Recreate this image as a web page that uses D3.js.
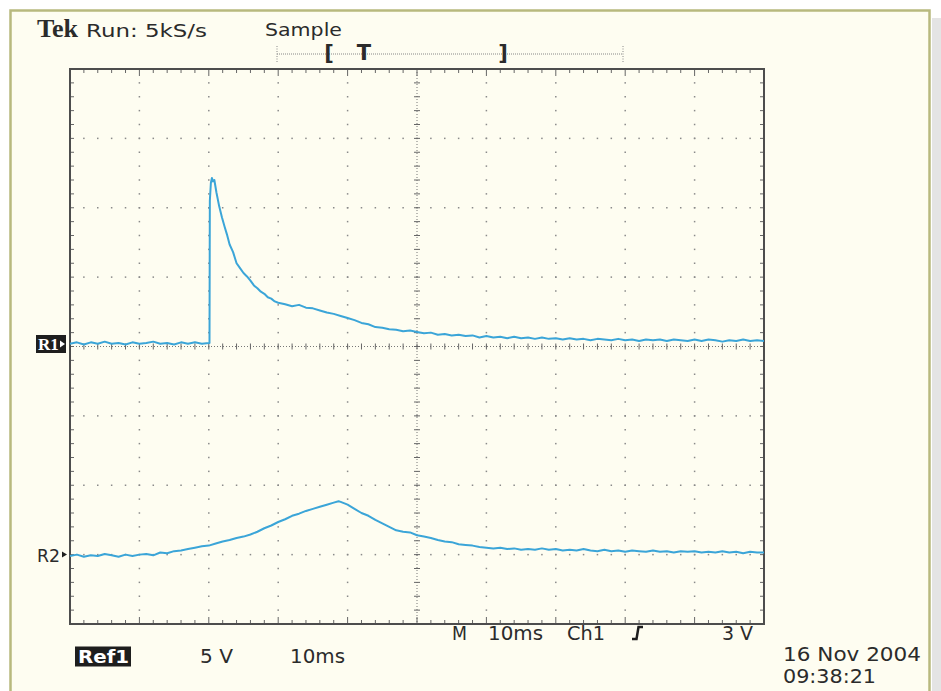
<!DOCTYPE html>
<html>
<head>
<meta charset="utf-8">
<style>
  html, body { margin: 0; padding: 0; background: #ffffff; }
  svg { display: block; }
  text { font-family: "DejaVu Sans", sans-serif; fill: #2b2b2b; }
</style>
</head>
<body>
<div id="scope"></div>
<script src="https://cdn.jsdelivr.net/npm/d3@7"></script>
<script>
// time in ms (10 ms/div), level in screen divisions from centre graticule
var r1Time = [0,1,2,3,4,5,6,7,8,9,10,11,12,13,14,15,16,17,18,19,20,20.1,20.15,20.3,20.45,20.6,20.8,21.1,21.5,21.9,22.3,22.6,23,23.5,24,24.5,25,25.5,26,26.5,27,27.5,28,28.5,29,29.5,30,
  31,32,33,34,35,36,37,38,39,40,41,42,43,44,45,46,47,48,49,50,51,52,53,54,55,56,57,58,59,60,61,62,63,64,65,66,67,68,69,70,
  71,72,73,74,75,76,77,78,79,80,81,82,83,84,85,86,87,88,89,90,91,92,93,94,95,96,97,98,99,100];
var r1Div = [0.04,0.06,0.03,0.06,0.04,0.07,0.04,0.05,0.03,0.06,0.04,0.05,0.07,0.04,0.05,0.03,0.06,0.04,0.06,0.04,0.05,0.05,2.10,2.36,2.43,2.38,2.40,2.22,2.02,1.86,1.72,1.62,1.47,1.36,1.20,1.13,1.06,1.01,0.95,0.88,0.84,0.79,0.76,0.71,0.69,0.65,0.63,
  0.61,0.58,0.60,0.56,0.55,0.52,0.49,0.47,0.44,0.41,0.38,0.34,0.32,0.28,0.27,0.25,0.24,0.22,0.23,0.21,0.19,0.20,0.17,0.18,0.16,0.17,0.15,0.16,0.13,0.15,0.13,0.14,0.12,0.14,0.12,0.13,0.11,0.13,0.11,0.12,
  0.10,0.12,0.10,0.11,0.09,0.11,0.10,0.09,0.11,0.09,0.10,0.08,0.10,0.09,0.10,0.08,0.10,0.09,0.08,0.10,0.08,0.10,0.09,0.07,0.09,0.08,0.10,0.08,0.09,0.08];

var r2Time = [0,1,2,3,4,5,6,7,8,9,10,11,12,13,14,15,16,17,18,19,20,21,22,23,24,25,26,27,28,29,30,31,32,33,34,35,36,37,38,38.7,39,40,
  41,42,43,44,45,46,47,48,49,50,51,52,53,54,55,56,57,58,59,60,61,62,63,64,65,66,67,68,69,70,
  71,72,73,74,75,76,77,78,79,80,81,82,83,84,85,86,87,88,89,90,91,92,93,94,95,96,97,98,99,100];
var r2Div = [-3.02,-3.00,-3.03,-3.01,-3.02,-2.99,-3.01,-3.03,-3.00,-3.02,-3.00,-2.99,-3.01,-2.97,-2.98,-2.95,-2.94,-2.92,-2.90,-2.88,-2.87,-2.84,-2.81,-2.79,-2.76,-2.74,-2.71,-2.67,-2.62,-2.58,-2.53,-2.49,-2.44,-2.41,-2.37,-2.34,-2.31,-2.28,-2.25,-2.23,-2.24,-2.28,
  -2.34,-2.40,-2.44,-2.50,-2.55,-2.60,-2.65,-2.67,-2.68,-2.72,-2.74,-2.76,-2.79,-2.81,-2.82,-2.85,-2.86,-2.87,-2.89,-2.90,-2.91,-2.90,-2.92,-2.91,-2.93,-2.92,-2.93,-2.91,-2.93,-2.92,
  -2.94,-2.93,-2.94,-2.92,-2.94,-2.95,-2.93,-2.95,-2.94,-2.96,-2.94,-2.95,-2.96,-2.94,-2.96,-2.95,-2.97,-2.95,-2.96,-2.95,-2.97,-2.96,-2.97,-2.95,-2.97,-2.96,-2.98,-2.96,-2.97,-2.97];

var xMajor = d3.range(0, 101, 10);   // ms
var yMajor = d3.range(-4, 4.01, 1);  // div
var traceColor = "#3ba5d8";

var W = 941, H = 691;
var plot = {left: 70, right: 764, top: 69, bottom: 624};

var svg = d3.select("#scope").append("svg")
    .attr("width", W).attr("height", H);

// card + shadow
svg.append("rect").attr("x", 932).attr("y", 18).attr("width", 9).attr("height", H - 18).attr("fill", "#e4e4e4");
svg.append("rect")
    .attr("x", 10.5).attr("y", 10.5).attr("width", 919).attr("height", H + 10)
    .attr("fill", "#fefdf1").attr("stroke", "#b8b97e").attr("stroke-width", 2.5);

var x = d3.scaleLinear().domain([0, 100]).range([plot.left, plot.right]);
var y = d3.scaleLinear().domain([-4, 4]).range([plot.bottom, plot.top]);

var xMinor = d3.range(0, 100.01, 2);
var yMinor = d3.range(-4, 4.001, 0.2);

var grid = svg.append("g");

// graticule dots on the major lines
xMajor.filter(function(d) { return d > 0 && d < 100 && d !== 50; }).forEach(function(t) {
  grid.selectAll(null).data(yMinor.slice(1, -1)).enter().append("rect")
    .attr("x", x(t) - 0.75).attr("y", function(v) { return y(v) - 0.75; })
    .attr("width", 1.5).attr("height", 1.5).attr("fill", "#8a8a8a");
});
yMajor.filter(function(d) { return d > -4 && d < 4 && d !== 0; }).forEach(function(v) {
  grid.selectAll(null).data(xMinor.slice(1, -1)).enter().append("rect")
    .attr("x", function(t) { return x(t) - 0.75; }).attr("y", y(v) - 0.75)
    .attr("width", 1.5).attr("height", 1.5).attr("fill", "#8a8a8a");
});

// centre cross
grid.append("line").attr("x1", plot.left).attr("x2", plot.right).attr("y1", y(0)).attr("y2", y(0))
    .attr("stroke", "#777").attr("stroke-width", 1).attr("stroke-dasharray", "1,2");
grid.append("line").attr("x1", x(50)).attr("x2", x(50)).attr("y1", plot.top).attr("y2", plot.bottom)
    .attr("stroke", "#777").attr("stroke-width", 1).attr("stroke-dasharray", "1,2");
grid.selectAll(null).data(xMinor).enter().append("line")
    .attr("x1", function(t) { return x(t); }).attr("x2", function(t) { return x(t); })
    .attr("y1", y(0) - 3).attr("y2", y(0) + 3).attr("stroke", "#666").attr("stroke-width", 1);
grid.selectAll(null).data(yMinor).enter().append("line")
    .attr("y1", function(v) { return y(v); }).attr("y2", function(v) { return y(v); })
    .attr("x1", x(50) - 3).attr("x2", x(50) + 3).attr("stroke", "#666").attr("stroke-width", 1);

// edge ticks
grid.selectAll(null).data(xMinor).enter().append("line")
    .attr("x1", function(t) { return x(t); }).attr("x2", function(t) { return x(t); })
    .attr("y1", plot.top).attr("y2", function(t) { return plot.top + (t % 10 === 0 ? 7 : 4); })
    .attr("stroke", "#666").attr("stroke-width", 1);
grid.selectAll(null).data(xMinor).enter().append("line")
    .attr("x1", function(t) { return x(t); }).attr("x2", function(t) { return x(t); })
    .attr("y1", plot.bottom).attr("y2", function(t) { return plot.bottom - (t % 10 === 0 ? 7 : 4); })
    .attr("stroke", "#666").attr("stroke-width", 1);
grid.selectAll(null).data(yMinor).enter().append("line")
    .attr("y1", function(v) { return y(v); }).attr("y2", function(v) { return y(v); })
    .attr("x1", plot.left).attr("x2", plot.left + 4).attr("stroke", "#666").attr("stroke-width", 1);
grid.selectAll(null).data(yMinor).enter().append("line")
    .attr("y1", function(v) { return y(v); }).attr("y2", function(v) { return y(v); })
    .attr("x1", plot.right).attr("x2", plot.right - 4).attr("stroke", "#666").attr("stroke-width", 1);

// frame
svg.append("rect")
    .attr("x", plot.left).attr("y", plot.top)
    .attr("width", plot.right - plot.left).attr("height", plot.bottom - plot.top)
    .attr("fill", "none").attr("stroke", "#4d4d4d").attr("stroke-width", 2);

// traces
var line = d3.line().x(function(d) { return x(d[0]); }).y(function(d) { return y(d[1]); });
var r1 = d3.zip(r1Time, r1Div), r2 = d3.zip(r2Time, r2Div);
[r1, r2].forEach(function(tr) {
  svg.append("path").datum(tr).attr("d", line)
      .attr("fill", "none").attr("stroke", traceColor).attr("stroke-width", 2)
      .attr("stroke-linejoin", "round");
});

// header
function label(txt, px, py, size, len) {
  var t = svg.append("text").attr("x", px).attr("y", py).style("font-size", size + "px").text(txt);
  if (len) t.attr("textLength", len).attr("lengthAdjust", "spacingAndGlyphs");
  return t;
}
label("Tek", 37, 37, 25, 41).style("font-family", "'Liberation Serif', serif").style("font-weight", "bold");
label("Run: 5kS/s", 86, 37, 18, 121);
label("Sample", 265, 36, 18, 77);

// trigger position bar
var bar = svg.append("g");
bar.append("line").attr("x1", 277).attr("x2", 623).attr("y1", 54).attr("y2", 54)
    .attr("stroke", "#888").attr("stroke-width", 1).attr("stroke-dasharray", "1,1");
[277, 623].forEach(function(px) {
  bar.append("line").attr("x1", px).attr("x2", px).attr("y1", 46).attr("y2", 63)
      .attr("stroke", "#888").attr("stroke-width", 1).attr("stroke-dasharray", "1,1.5");
});
[["[", 329], ["T", 364], ["]", 503]].forEach(function(d) {
  bar.append("text").attr("x", d[1]).attr("y", 60).attr("text-anchor", "middle")
      .style("font-size", "21px").style("font-weight", "bold").text(d[0]);
});

// reference markers
svg.append("rect").attr("x", 36).attr("y", 335).attr("width", 30).attr("height", 18).attr("fill", "#1e1e1e");
svg.append("text").attr("x", 38).attr("y", 350).style("font-family", "'Liberation Serif', serif")
    .style("font-weight", "bold").style("font-size", "17px").style("fill", "#ffffff").text("R1");
svg.append("path").attr("d", "M60,340.5 L65,344 L60,347.5 Z").attr("fill", "#ffffff");

label("R2", 37, 562, 18, 23);
svg.append("path").attr("d", "M62,551.5 L67,554.5 L62,557.5 Z").attr("fill", "#1e1e1e");

// readouts
svg.append("rect").attr("x", 75).attr("y", 646.5).attr("width", 56).attr("height", 20).attr("fill", "#1e1e1e");
label("Ref1", 78, 663, 18, 51).style("fill", "#ffffff").style("font-weight", "bold");
label("5 V", 200, 663, 20, 33);
label("10ms", 290, 663, 20, 55);
label("M", 452, 640, 20, 15);
label("10ms", 488, 640, 20, 55);
label("Ch1", 567, 640, 20, 38);
svg.append("path").attr("d", "M632,639 L636.5,639 L638.5,627 L643,627")
    .attr("fill", "none").attr("stroke", "#1e1e1e").attr("stroke-width", 2.5);
label("3 V", 722, 640, 20, 31);
label("16 Nov 2004", 783, 661, 19, 138);
label("09:38:21", 783, 683, 19, 93);
</script>
</body>
</html>
